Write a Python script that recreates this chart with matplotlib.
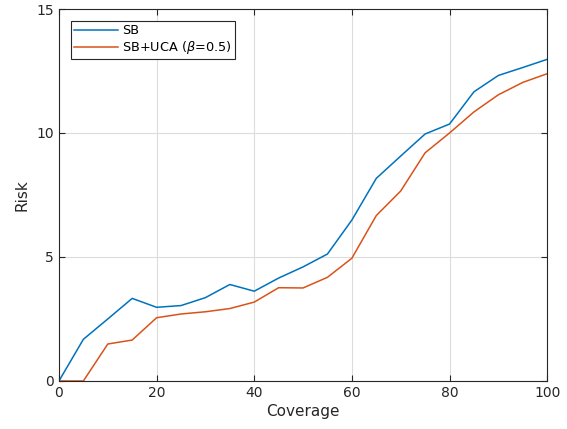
import matplotlib.pyplot as plt
import numpy as np

# --- Data ---
coverage = [0, 5, 10, 15, 20, 25, 30, 35, 40, 45, 50,
            55, 60, 65, 70, 75, 80, 85, 90, 95, 100]
risk_sb = [0, 1.68, 2.5, 3.33, 2.97, 3.04, 3.36, 3.89, 3.62, 4.15, 4.6,
           5.12, 6.49, 8.17, 9.07, 9.96, 10.36, 11.66, 12.32, 12.64, 12.97]
risk_uca = [0, 0, 1.49, 1.65, 2.55, 2.7, 2.79, 2.92, 3.18, 3.76, 3.75,
            4.18, 4.95, 6.67, 7.66, 9.2, 10.0, 10.85, 11.54, 12.04, 12.39]

# --- Plot ---
fig = plt.figure(figsize=(5.67, 4.29), dpi=100)
ax = fig.add_axes([0.104, 0.112, 0.861, 0.867])

ax.plot(coverage, risk_sb, color="#0072BD", linewidth=1.1, label="SB")
ax.plot(coverage, risk_uca, color="#D95319", linewidth=1.1,
        label=r"SB+UCA ($\beta$=0.5)")

ax.set_xlim(0, 100)
ax.set_ylim(0, 15)
ax.set_xticks([0, 20, 40, 60, 80, 100])
ax.set_yticks([0, 5, 10, 15])
ax.grid(True, color="#dcdcdc", linewidth=0.8)
ax.set_axisbelow(True)

ax.tick_params(direction="in", top=True, right=True, length=4,
               labelsize=10, colors="#262626", width=0.8)
for s in ax.spines.values():
    s.set_color("#262626")
    s.set_linewidth(0.8)

ax.set_xlabel("Coverage", fontsize=11, color="#262626", labelpad=3)
ax.set_ylabel("Risk", fontsize=11, color="#262626", labelpad=5)

leg = ax.legend(loc="upper left", fontsize=9.3, fancybox=False,
                edgecolor="#262626", framealpha=1, borderpad=0.25,
                handlelength=3.4, handletextpad=0.3, labelspacing=0.15,
                borderaxespad=0, bbox_to_anchor=(0.025, 0.968))
leg.get_frame().set_linewidth(0.8)

# --- Render ---
plt.savefig("out.png", dpi=100)
plt.close()
